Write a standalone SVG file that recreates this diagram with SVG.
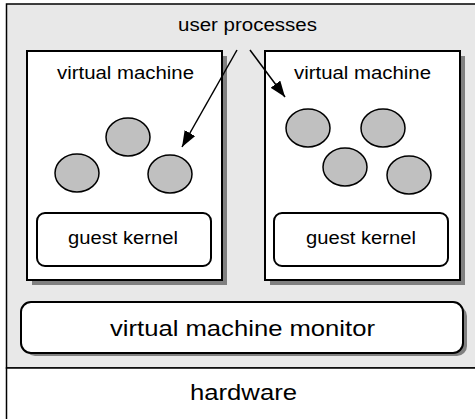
<svg xmlns="http://www.w3.org/2000/svg" width="475" height="419" viewBox="0 0 475 419">
<defs>
<style>
text{font-family:"Liberation Sans",Arial,sans-serif;fill:#000;text-anchor:middle}
.sh{fill:#808080;stroke:none}
.box{fill:#fff;stroke:#000;stroke-width:2}
.proc{fill:#c0c0c0;stroke:#000;stroke-width:1.5}
.conn{stroke:#000;stroke-width:1.5;fill:none;marker-end:url(#ah)}
</style>
<marker id="ah" viewBox="0 0 16 12" refX="16" refY="6" markerWidth="16" markerHeight="12" markerUnits="userSpaceOnUse" orient="auto">
<path d="M0,0 L16,6 L0,12 z" fill="#000"/>
</marker>
</defs>
<g id="host">
<rect x="6.5" y="4" width="475" height="364" fill="#e8e8e8" stroke="#000" stroke-width="1.5"/>
<text x="247.5" y="30.5" font-size="17.5" textLength="139" lengthAdjust="spacingAndGlyphs">user processes</text>
</g>
<g id="hardware">
<rect x="6.5" y="368" width="475" height="60" fill="#fff" stroke="#000" stroke-width="1.5"/>
<text x="243.5" y="400" font-size="22" textLength="107" lengthAdjust="spacingAndGlyphs">hardware</text>
</g>
<g id="vm1">
<rect class="sh" x="32" y="56" width="195" height="229"/>
<rect class="box" x="27" y="51" width="195" height="229"/>
<text x="125.5" y="79" font-size="17.5" textLength="137" lengthAdjust="spacingAndGlyphs">virtual machine</text>
<ellipse class="proc" cx="128" cy="137" rx="22" ry="19"/>
<ellipse class="proc" cx="77" cy="173" rx="22" ry="19"/>
<ellipse class="proc" cx="170" cy="174" rx="22" ry="19"/>
</g>
<g id="gk1">
<rect class="box" x="37" y="213" width="174" height="53" rx="8"/>
<text x="123" y="244" font-size="17.5" textLength="110" lengthAdjust="spacingAndGlyphs">guest kernel</text>
</g>
<g id="vm2">
<rect class="sh" x="270" y="56" width="195" height="229"/>
<rect class="box" x="265" y="51" width="195" height="229"/>
<text x="362.5" y="79" font-size="17.5" textLength="137" lengthAdjust="spacingAndGlyphs">virtual machine</text>
<ellipse class="proc" cx="308" cy="128" rx="22" ry="19"/>
<ellipse class="proc" cx="383" cy="128" rx="22" ry="19"/>
<ellipse class="proc" cx="345" cy="167" rx="22" ry="19"/>
<ellipse class="proc" cx="409" cy="175" rx="22" ry="19"/>
</g>
<g id="gk2">
<rect class="box" x="274" y="213" width="174" height="53" rx="8"/>
<text x="361" y="244" font-size="17.5" textLength="110" lengthAdjust="spacingAndGlyphs">guest kernel</text>
</g>
<g id="vmm">
<rect class="sh" x="25" y="306" width="442" height="50" rx="10"/>
<rect class="box" x="21" y="302" width="442" height="51" rx="10"/>
<text x="242.5" y="336" font-size="22" textLength="265" lengthAdjust="spacingAndGlyphs">virtual machine monitor</text>
</g>
<g id="connectors">
<line class="conn" x1="237" y1="50" x2="182" y2="147"/>
<line class="conn" x1="250" y1="50" x2="285" y2="97"/>
</g>
</svg>
